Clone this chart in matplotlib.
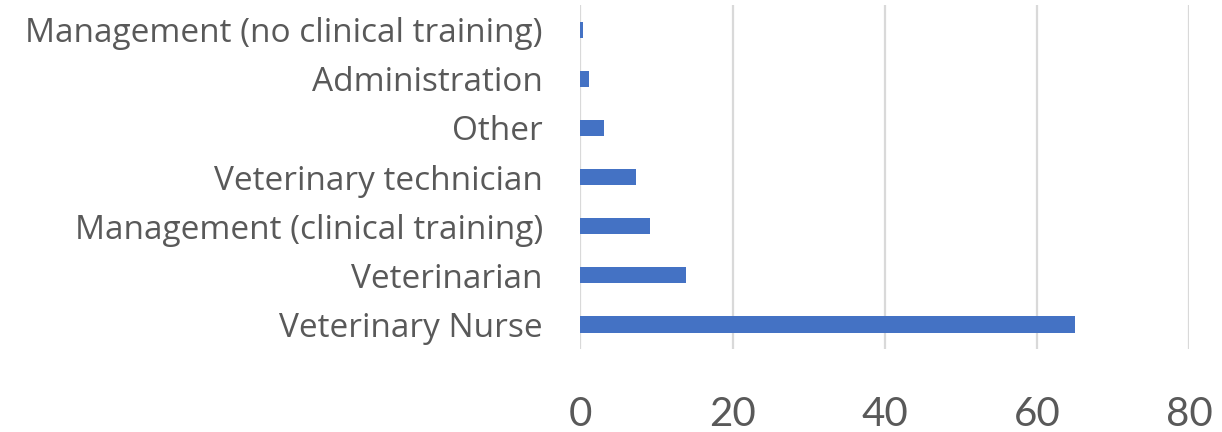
import matplotlib
matplotlib.use("Agg")
import matplotlib.pyplot as plt

# roles, bottom to top as drawn
roles = [
    "Veterinary Nurse",
    "Veterinarian",
    "Management (clinical training)",
    "Veterinary technician",
    "Other",
    "Administration",
    "Management (no clinical training)",
]
percent = [65.0, 13.9, 9.2, 7.3, 3.05, 1.1, 0.4]
x_ticks = [0, 20, 40, 60, 80]

plt.rcParams["font.family"] = ["Lato", "DejaVu Sans"]

fig = plt.figure(figsize=(12.22, 4.32), dpi=100)
ax = fig.add_axes([0.4749, 0.192, 0.4983, 0.796])

ypos = list(range(len(roles)))
ax.barh(ypos, percent, height=0.33, color="#4472C4", zorder=3)

ax.set_xlim(0, 80)
ax.set_ylim(-0.5, len(roles) - 0.5)
ax.set_xticks(x_ticks)
ax.set_yticks(ypos)
ax.set_yticklabels(roles, family="Open Sans")

ax.grid(axis="x", color="#d9d9d9", linewidth=1.6, zorder=0)
for side in ["top", "right", "bottom", "left"]:
    ax.spines[side].set_visible(False)

ax.tick_params(axis="x", length=0, pad=34, labelsize=29, labelcolor="#595959")
ax.tick_params(axis="y", length=0, pad=27, labelsize=24, labelcolor="#595959")

fig.savefig("out.png", dpi=100)
